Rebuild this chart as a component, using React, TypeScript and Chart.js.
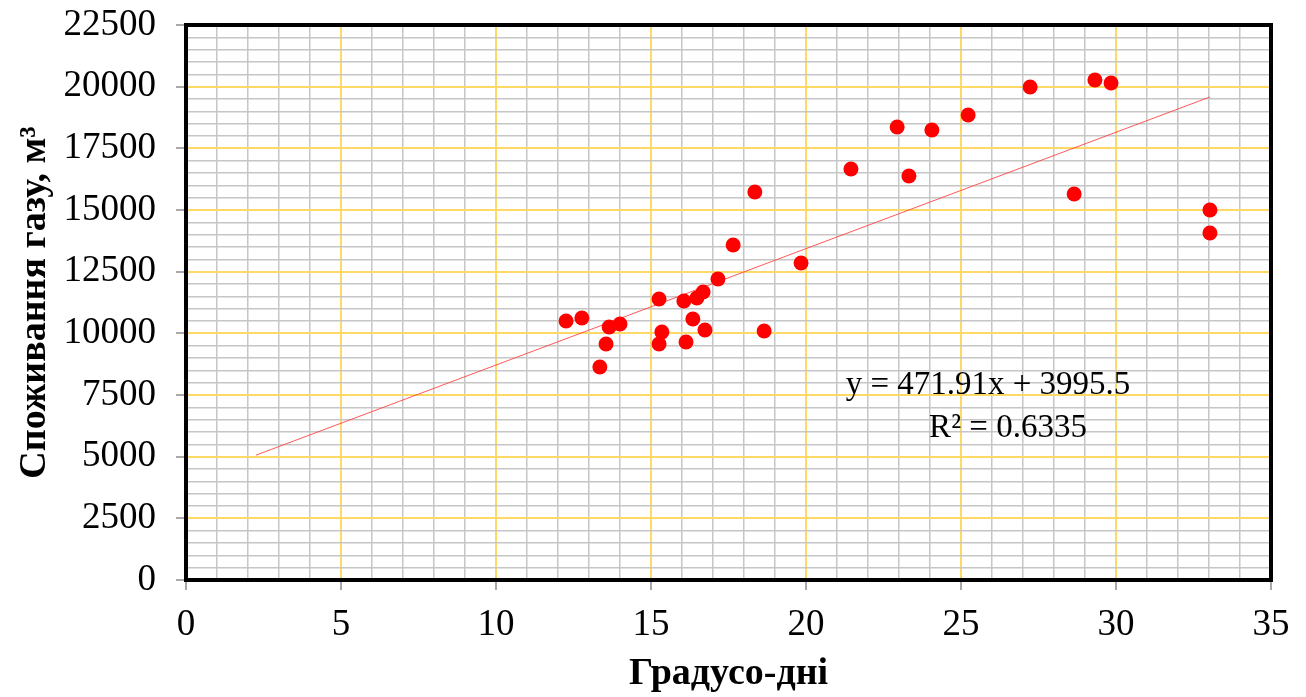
import { useEffect, useRef } from "react";
import { Chart, registerables } from "chart.js";
Chart.register(...registerables);

// Degree-days (x) and gas consumption, m³ (y)
const degreeDays = [12.26, 12.77, 13.65, 14.0, 13.55, 13.35, 15.26, 15.35, 15.26, 16.06, 16.48, 16.68, 16.35, 16.13, 16.74, 17.16, 17.65, 18.35, 18.65, 19.84, 21.45, 22.94, 23.32, 24.06, 25.23, 27.23, 28.65, 29.32, 29.84, 33.03, 33.03];
const gasUse = [10500, 10620, 10257, 10378, 9567, 8635, 11392, 10054, 9567, 11311, 11432, 11675, 10580, 9648, 10135, 12202, 13581, 15730, 10094, 12851, 16662, 18365, 16378, 18243, 18851, 19986, 15649, 20270, 20148, 15000, 14067];

// Linear trendline as reported on the chart
const trendSlope = 471.91;
const trendIntercept = 3995.5;
const trendBackward = 10;
const equationText = "y = 471.91x + 3995.5";
const r2Text = "R² = 0.6335";

const xTitle = "Градусо-дні";
const yTitle = "Споживання газу, м³";

const SERIF = "'Liberation Serif', 'Times New Roman', serif";

export default function App() {
  const ref = useRef<HTMLCanvasElement | null>(null);

  useEffect(() => {
    const canvas = ref.current;
    if (!canvas) return;
    const xMin = Math.min(...degreeDays) - trendBackward;
    const xMax = Math.max(...degreeDays);
    const trend = [
      { x: xMin, y: trendSlope * xMin + trendIntercept },
      { x: xMax, y: trendSlope * xMax + trendIntercept },
    ];
    const points = degreeDays.map((x, i) => ({ x, y: gasUse[i] }));

    const framePlugin = {
      id: "frame",
      afterDraw(chart: any) {
        const { ctx, chartArea } = chart;
        ctx.save();
        ctx.strokeStyle = "#000000";
        ctx.lineWidth = 4;
        ctx.strokeRect(chartArea.left, chartArea.top, chartArea.right - chartArea.left, chartArea.bottom - chartArea.top);
        // equation label
        ctx.fillStyle = "#000000";
        ctx.font = `33px ${SERIF}`;
        ctx.textAlign = "center";
        ctx.textBaseline = "middle";
        ctx.fillText(equationText, chartArea.left + 802, chartArea.top + 360);
        ctx.fillText(r2Text, chartArea.left + 822, chartArea.top + 403);
        ctx.restore();
      },
    };

    const isMajorX = (v: number) => Math.abs(v % 5) < 1e-6;
    const isMajorY = (v: number) => Math.abs(v % 2500) < 1e-6;

    const chart = new Chart(canvas, {
      type: "scatter",
      data: {
        datasets: [
          {
            type: "scatter",
            data: points,
            backgroundColor: "#FF0000",
            borderColor: "#FF0000",
            borderWidth: 0,
            pointRadius: 7.5,
            order: 1,
          },
          {
            type: "line",
            data: trend,
            borderColor: "rgba(255,60,60,0.85)",
            borderWidth: 1,
            pointRadius: 0,
            fill: false,
            order: 2,
          } as any,
        ],
      },
      options: {
        animation: false,
        responsive: false,
        maintainAspectRatio: false,
        layout: { padding: { left: 0, right: 35, top: 25, bottom: 0 } },
        plugins: { legend: { display: false }, tooltip: { enabled: false } },
        scales: {
          x: {
            type: "linear",
            min: 0,
            max: 35,
            border: { display: false },
            grid: {
              color: (c: any) => (c.tick && isMajorX(c.tick.value) ? "#FFD966" : "#C6C6C6"),
              lineWidth: (c: any) => (c.tick && isMajorX(c.tick.value) ? 2 : 1.5),
              tickColor: (c: any) => (c.tick && isMajorX(c.tick.value) ? "#8C8C8C" : "rgba(0,0,0,0)"),
              tickLength: 10,
              tickWidth: 1.5,
            },
            ticks: {
              stepSize: 1,
              autoSkip: false,
              maxRotation: 0,
              padding: 13,
              color: "#000000",
              font: { family: SERIF, size: 37 },
              callback: (v: any) => (isMajorX(Number(v)) ? String(v) : ""),
            },
            title: {
              display: true,
              text: xTitle,
              color: "#000000",
              font: { family: SERIF, size: 38, weight: "bold" },
              padding: { top: 0, bottom: 0 },
            },
            afterFit: (s: any) => {
              s.height = 117;
              s.paddingLeft = 0;
              s.paddingRight = 0;
            },
          },
          y: {
            type: "linear",
            min: 0,
            max: 22500,
            border: { display: false },
            grid: {
              color: (c: any) => (c.tick && isMajorY(c.tick.value) ? "#FFD966" : "#C6C6C6"),
              lineWidth: (c: any) => (c.tick && isMajorY(c.tick.value) ? 2 : 1.5),
              tickColor: (c: any) => (c.tick && isMajorY(c.tick.value) ? "#8C8C8C" : "rgba(0,0,0,0)"),
              tickLength: 10,
              tickWidth: 1.5,
            },
            ticks: {
              stepSize: 500,
              autoSkip: false,
              padding: 20,
              color: "#000000",
              font: { family: SERIF, size: 37 },
              callback: (v: any) => (isMajorY(Number(v)) ? String(v) : ""),
            },
            title: {
              display: true,
              text: yTitle,
              color: "#000000",
              font: { family: SERIF, size: 38, weight: "bold" },
              padding: { top: 12, bottom: 0 },
            },
            afterFit: (s: any) => {
              s.width = 186;
              s.paddingTop = 0;
              s.paddingBottom = 0;
            },
          },
        },
      },
      plugins: [framePlugin],
    });
    return () => chart.destroy();
  }, []);

  return (
    <div style={{ position: "absolute", left: 0, top: 0, width: 1306, height: 697, background: "#ffffff" }}>
      <canvas ref={ref} width={1306} height={697} style={{ display: "block", width: 1306, height: 697 }} />
    </div>
  );
}
